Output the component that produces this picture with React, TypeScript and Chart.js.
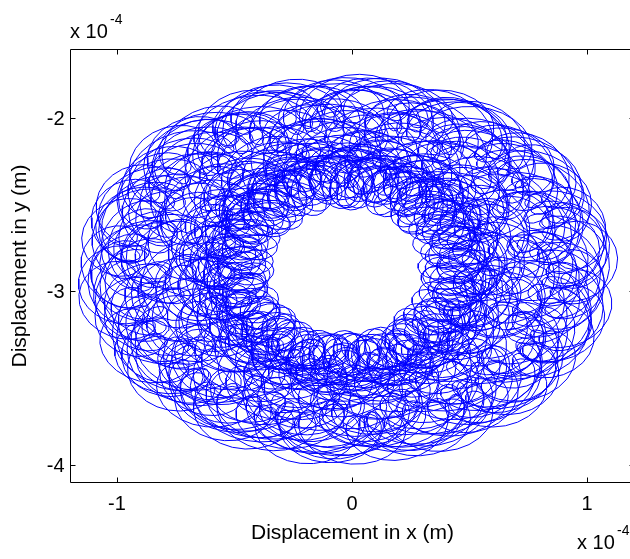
import React, { useEffect, useRef } from "react";
import { Chart, registerables } from "chart.js";

Chart.register(...registerables);

// Axis ranges and tick labels (values in units of 1e-4 m)
const xRange = [-1.2, 1.2];
const yRange = [-4.1, -1.6];
const xTicks = [-1, 0, 1];
const yTicks = [-2, -3, -4];
const xTickLabels = ["-1", "0", "1"];
const yTickLabels = ["-2", "-3", "-4"];
const xTitle = "Displacement in x (m)";
const yTitle = "Displacement in y (m)";
const exponentText = "x 10";
const exponentPower = "-4";

// Orbit: centre, and its harmonic components
// (main whirl, slow beating whirl, fast loops, small loop distortion)
const orbitCentreX = -0.02;
const orbitCentreY = -2.87;
const harmonicFreq = [1, 1.053, 15.3, -5.7];
const harmonicAmpX = [0.73, 0.28, 0.12, 0.03];
const harmonicAmpY = [0.74, 0.24, 0.13, 0.03];
const harmonicPhase = [0, 2.1, 0.7, 1.3];
const orbitRevolutions = 44;
const samplesPerRevolution = 300;

function buildOrbit() {
  const pts: { x: number; y: number }[] = [];
  const n = orbitRevolutions * samplesPerRevolution;
  for (let i = 0; i <= n; i++) {
    const t = (2 * Math.PI * i) / samplesPerRevolution;
    let x = orbitCentreX;
    let y = orbitCentreY;
    for (let k = 0; k < harmonicFreq.length; k++) {
      const a = harmonicFreq[k] * t + harmonicPhase[k];
      x += harmonicAmpX[k] * Math.cos(a);
      y += harmonicAmpY[k] * Math.sin(a);
    }
    pts.push({ x, y });
  }
  return pts;
}

const FONT = '"Liberation Sans", Arial, sans-serif';

const framePlugin = {
  id: "matlabFrame",
  afterDraw(chart: any) {
    const { ctx, chartArea } = chart;
    const xs = chart.scales.x;
    const ys = chart.scales.y;
    const L = Math.round(chartArea.left) + 0.5;
    const R = Math.round(chartArea.right) + 0.5;
    const T = Math.round(chartArea.top) + 0.5;
    const B = Math.round(chartArea.bottom) + 0.5;
    ctx.save();
    ctx.strokeStyle = "#000";
    ctx.lineWidth = 1;
    ctx.beginPath();
    ctx.rect(L, T, R - L, B - T);
    ctx.stroke();
    const tl = 5;
    ctx.beginPath();
    xTicks.forEach((v) => {
      const px = Math.round(xs.getPixelForValue(v)) + 0.5;
      ctx.moveTo(px, B);
      ctx.lineTo(px, B - tl);
      ctx.moveTo(px, T);
      ctx.lineTo(px, T + tl);
    });
    yTicks.forEach((v) => {
      const py = Math.round(ys.getPixelForValue(v)) + 0.5;
      ctx.moveTo(L, py);
      ctx.lineTo(L + tl, py);
      ctx.moveTo(R, py);
      ctx.lineTo(R - tl, py);
    });
    ctx.stroke();

    ctx.fillStyle = "#000";
    ctx.font = `20px ${FONT}`;
    ctx.textAlign = "center";
    ctx.textBaseline = "alphabetic";
    xTicks.forEach((v, i) => {
      const px = xs.getPixelForValue(v);
      ctx.fillText(xTickLabels[i], px, B + 27);
    });
    ctx.textAlign = "right";
    yTicks.forEach((v, i) => {
      const py = ys.getPixelForValue(v);
      ctx.fillText(yTickLabels[i], L - 6, py + 7);
    });

    // axis titles
    ctx.font = `21px ${FONT}`;
    ctx.textAlign = "center";
    ctx.fillText(xTitle, (L + R) / 2, 539);
    ctx.save();
    ctx.translate(26, (T + B) / 2);
    ctx.rotate(-Math.PI / 2);
    ctx.fillText(yTitle, 0, 0);
    ctx.restore();

    // exponent labels
    ctx.textAlign = "left";
    ctx.font = `20px ${FONT}`;
    ctx.fillText(exponentText, 70, 38);
    ctx.font = `14px ${FONT}`;
    ctx.fillText(exponentPower, 110, 24);
    ctx.font = `20px ${FONT}`;
    ctx.fillText(exponentText, 577, 549);
    ctx.font = `14px ${FONT}`;
    ctx.fillText(exponentPower, 617, 535);
    ctx.restore();
  },
};

export default function App() {
  const ref = useRef<HTMLCanvasElement | null>(null);
  useEffect(() => {
    if (!ref.current) return;
    const chart = new Chart(ref.current, {
      type: "scatter",
      data: {
        datasets: [
          {
            data: buildOrbit(),
            showLine: true,
            borderColor: "#0000ff",
            borderWidth: 1,
            pointRadius: 0,
            pointHoverRadius: 0,
            tension: 0,
            fill: false,
          },
        ],
      },
      options: {
        responsive: false,
        maintainAspectRatio: false,
        animation: false,
        devicePixelRatio: 1,
        events: [],
        layout: { padding: { left: 70, top: 49, right: 6, bottom: 77 } },
        plugins: { legend: { display: false }, tooltip: { enabled: false } },
        scales: {
          x: { type: "linear", min: xRange[0], max: xRange[1], display: false },
          y: { type: "linear", min: yRange[0], max: yRange[1], display: false },
        },
      },
      plugins: [framePlugin],
    });
    return () => chart.destroy();
  }, []);
  return (
    <div
      style={{
        position: "fixed",
        left: 0,
        top: 0,
        width: 630,
        height: 559,
        overflow: "hidden",
        background: "#fff",
      }}
    >
      <canvas ref={ref} width={640} height={559} style={{ display: "block" }} />
    </div>
  );
}
